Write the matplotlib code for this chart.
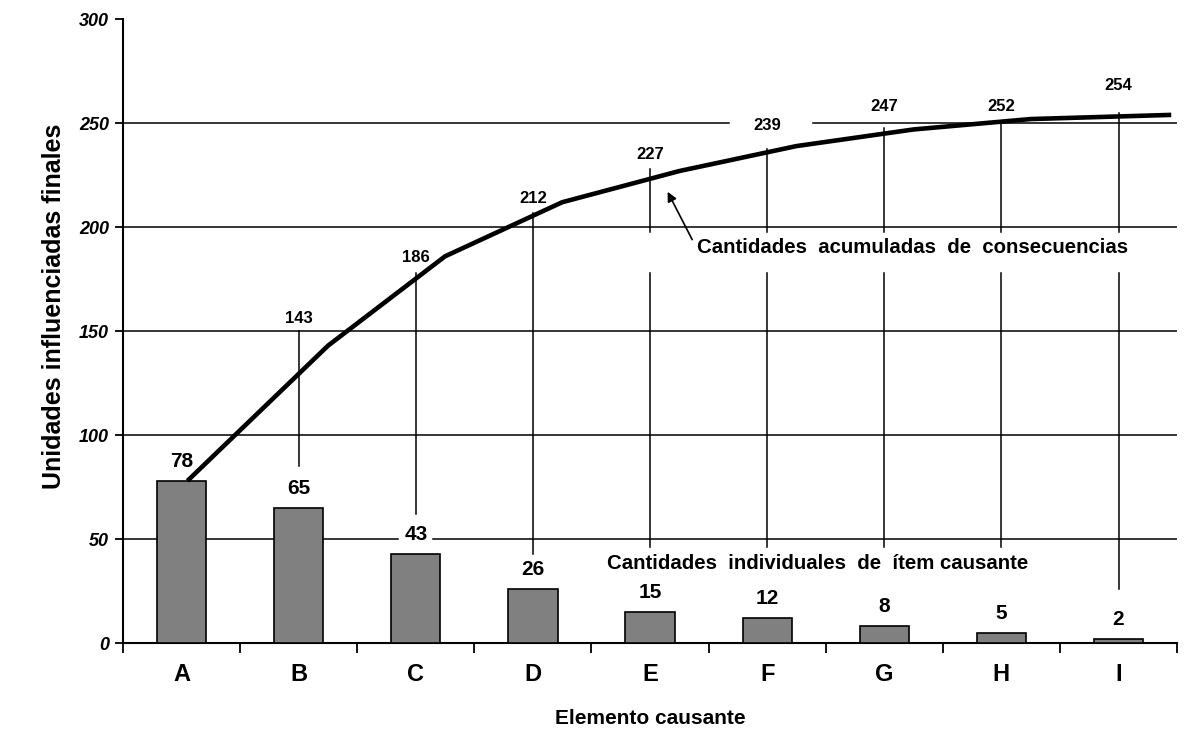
import numpy as np
import matplotlib
matplotlib.use("Agg")
import matplotlib.pyplot as plt

plt.rcParams['font.family'] = ['Liberation Sans', 'DejaVu Sans']

# Pareto data: causes and individual counts
categories = ['A', 'B', 'C', 'D', 'E', 'F', 'G', 'H', 'I']
counts = [78, 65, 43, 26, 15, 12, 8, 5, 2]
cumulative = np.cumsum(counts)   # 78, 143, 186, 212, 227, 239, 247, 252, 254

x = np.arange(len(categories))

fig = plt.figure(figsize=(11.91, 7.40), dpi=100)
ax = fig.add_axes([0.1033, 0.131, 0.885, 0.843])
ax.set_xlim(-0.5, 8.5)
ax.set_ylim(0, 300)

# horizontal grid lines, some interrupted where labels sit on them
grid_segments = {
    50: [(-0.5, 1.85), (2.15, 8.5)],
    100: [(-0.5, 8.5)],
    150: [(-0.5, 8.5)],
    200: [(-0.5, 8.5)],
    250: [(-0.5, 4.67), (5.39, 8.5)],
}
for yv, segs in grid_segments.items():
    for x0, x1 in segs:
        ax.plot([x0, x1], [yv, yv], color='black', lw=1.1, zorder=1)

# bars
ax.bar(x, counts, width=0.42, color='#808080', edgecolor='black', linewidth=1.2, zorder=3)
for xi, v in zip(x, counts):
    ax.annotate(str(v), (xi, v), xytext=(0, 14), textcoords='offset points',
                ha='center', va='center', fontsize=15, fontweight='bold', zorder=5)

# leader lines from the bars up to the cumulative labels
leader_top = [None, 150, 178, 207, 228, 237.5, 247.5, 251, 255]
leader_bottom = [None, 85, 62, 43, 46, 46, 46, 46, 26]
text_band = (178, 197.6)   # gap left for the annotation text
for i in range(1, len(categories)):
    top, bot = leader_top[i], leader_bottom[i]
    if i >= 4:
        ax.plot([x[i], x[i]], [bot, text_band[0]], color='black', lw=1.1, zorder=2)
        ax.plot([x[i], x[i]], [text_band[1], top], color='black', lw=1.1, zorder=2)
    else:
        ax.plot([x[i], x[i]], [bot, top], color='black', lw=1.1, zorder=2)

# cumulative labels above the leader lines
cum_label_y = [None, 156, 185.6, 214, 235, 249, 258, 258, 268]
for i in range(1, len(categories)):
    ax.text(x[i], cum_label_y[i], str(cumulative[i]), ha='center', va='center',
            fontsize=12, fontweight='bold', zorder=5)

# cumulative curve, vertices at the right edge of each bar
line_x = x + 0.25
line_x[0] = 0.05
line_x[-1] = 8.45
ax.plot(line_x, cumulative, color='black', lw=3.3, solid_capstyle='butt',
        solid_joinstyle='round', zorder=4)

# annotations
ax.text(4.40, 190, 'Cantidades  acumuladas  de  consecuencias', ha='left', va='center',
        fontsize=14.7, fontweight='bold', zorder=6)
ax.annotate('', xy=(4.15, 217), xytext=(4.36, 194),
            arrowprops=dict(arrowstyle='-|>', color='black', lw=1.2,
                            mutation_scale=14, shrinkA=0, shrinkB=0),
            zorder=6)
ax.text(3.63, 38.5, 'Cantidades  individuales  de  ítem causante', ha='left', va='center',
        fontsize=14.7, fontweight='bold', zorder=6)

# axes styling
for side in ['top', 'right']:
    ax.spines[side].set_visible(False)
for side in ['left', 'bottom']:
    ax.spines[side].set_linewidth(1.5)

ax.set_yticks([0, 50, 100, 150, 200, 250, 300])
ax.set_yticklabels(['0', '50', '100', '150', '200', '250', '300'],
                   fontsize=13, fontweight='bold', fontstyle='italic')
ax.tick_params(axis='y', length=6, width=1.3, pad=4)

ax.set_xticks(np.arange(-0.5, 9.0, 1.0))
ax.set_xticklabels([])
ax.tick_params(axis='x', which='major', length=7, width=1.3, direction='out')
ax.set_xticks(x, minor=True)
ax.set_xticklabels(categories, minor=True, fontsize=17, fontweight='bold')
ax.tick_params(axis='x', which='minor', length=0, pad=14)

ax.set_xlabel('Elemento causante', fontsize=15, fontweight='bold', labelpad=17)
ax.set_ylabel('Unidades influenciadas finales', fontsize=18, fontweight='bold')
ax.yaxis.set_label_coords(-0.054, 0.54)

fig.savefig('out.png', dpi=100)
